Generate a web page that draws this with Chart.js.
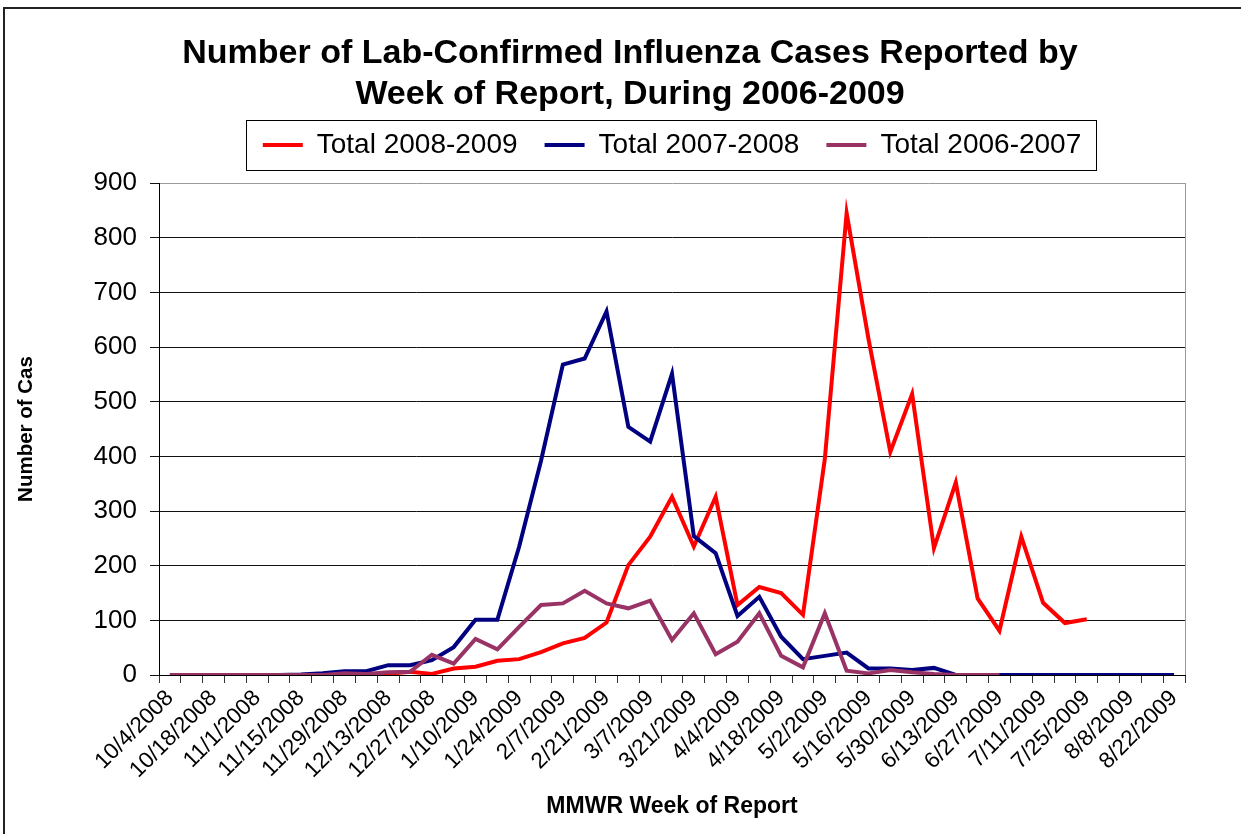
<!DOCTYPE html>
<html><head><meta charset="utf-8">
<script src="https://cdn.jsdelivr.net/npm/chart.js"></script>
<style>
html,body{margin:0;padding:0;background:#fff;}
#wrap{position:relative;width:1241px;height:834px;overflow:hidden;background:#fff;}
#frame{position:absolute;left:3px;top:7px;width:1300px;height:900px;border-left:2px solid #222;border-top:2px solid #222;}
canvas{position:absolute;left:0;top:0;}
</style></head><body>
<div id="wrap"><div id="frame"></div><canvas id="c" width="1241" height="834"></canvas></div>
<script>
const weeks = ["10/4/2008","10/11/2008","10/18/2008","10/25/2008","11/1/2008","11/8/2008","11/15/2008","11/22/2008","11/29/2008","12/6/2008",
"12/13/2008","12/20/2008","12/27/2008","1/3/2009","1/10/2009","1/17/2009","1/24/2009","1/31/2009","2/7/2009","2/14/2009",
"2/21/2009","2/28/2009","3/7/2009","3/14/2009","3/21/2009","3/28/2009","4/4/2009","4/11/2009","4/18/2009","4/25/2009",
"5/2/2009","5/9/2009","5/16/2009","5/23/2009","5/30/2009","6/6/2009","6/13/2009","6/20/2009","6/27/2009","7/4/2009",
"7/11/2009","7/18/2009","7/25/2009","8/1/2009","8/8/2009","8/15/2009","8/22/2009"];
const total2008_2009 = [0,0,0,0,0,0,0,0,0,1, 2,6,2,12,15,26,29,42,58,68, 96,201,253,326,235,326,128,161,150,110, 395,845,615,408,514,232,352,140,81,253, 132,95,102];
const total2007_2008 = [0,0,0,0,0,0,1,3,7,7, 18,18,27,51,101,101,235,392,568,579, 665,454,427,551,254,223,108,143,70,29, 35,41,12,12,9,13,0,0,0,0, 0,0,0,0,0,0,0];
const total2006_2007 = [0,0,0,0,0,0,0,0,3,2, 5,6,37,21,66,47,88,128,131,154, 131,122,136,64,113,38,61,113,35,14, 113,8,3,9,5,2,0,0,0];
const seriesNames = ["Total 2008-2009","Total 2007-2008","Total 2006-2007"];
const titleLines = ["Number of Lab-Confirmed Influenza Cases Reported by","Week of Report, During 2006-2009"];
const yMin = 0, yMax = 900, yStep = 100;

const FONT = "'Liberation Sans', Arial, sans-serif";

const framePlugin = {
  id: 'frame',
  beforeDatasetsDraw(chart) {
    const {ctx, chartArea: a} = chart;
    ctx.save();
    ctx.strokeStyle = '#9a9a9a'; ctx.lineWidth = 1;
    ctx.beginPath(); ctx.moveTo(Math.round(a.right) + 0.5, a.top); ctx.lineTo(Math.round(a.right) + 0.5, a.bottom); ctx.stroke();
    ctx.restore();
  },
  afterDraw(chart) {
    const lg = chart.legend;
    if (!lg || !lg.legendHitBoxes || !lg.legendHitBoxes.length) return;
    const hb = lg.legendHitBoxes, ctx = chart.ctx;
    const l = Math.min(...hb.map(h => h.left)) - 17;
    const r = Math.max(...hb.map(h => h.left + h.width)) + 15;
    const t = Math.min(...hb.map(h => h.top)) - 11;
    const b = Math.max(...hb.map(h => h.top + h.height)) + 11;
    ctx.save(); ctx.strokeStyle = '#000'; ctx.lineWidth = 1;
    ctx.strokeRect(Math.round(l) + 0.5, Math.round(t) + 0.5, Math.round(r - l), Math.round(b - t));
    ctx.restore();
  }
};

new Chart(document.getElementById('c'), {
  type: 'line',
  data: {
    labels: weeks,
    datasets: [
      {label: seriesNames[0], data: total2008_2009, borderColor: '#FF0000', backgroundColor: '#FF0000', borderWidth: 4, pointRadius: 0, tension: 0, order: 3},
      {label: seriesNames[1], data: total2007_2008, borderColor: '#000080', backgroundColor: '#000080', borderWidth: 4, pointRadius: 0, tension: 0, order: 2},
      {label: seriesNames[2], data: total2006_2007, borderColor: '#993366', backgroundColor: '#993366', borderWidth: 4, pointRadius: 0, tension: 0, order: 1}
    ]
  },
  options: {
    responsive: false,
    animation: false,
    layout: {padding: {left: 75, right: 56, top: 0, bottom: 10}},
    plugins: {
      tooltip: {enabled: false},
      title: {
        display: true, text: titleLines, color: '#000',
        font: {family: FONT, size: 34, weight: 'bold', lineHeight: 41/34},
        padding: {top: 33.5, bottom: -11.5}
      },
      subtitle: {
        display: true, text: '', position: 'top', weight: 500,
        font: {size: 10, lineHeight: 1.4}, padding: {top: 0, bottom: 0}
      },
      legend: {
        display: true, position: 'top', fullSize: false,
        labels: {
          font: {family: FONT, size: 28}, color: '#000',
          boxWidth: 40, boxHeight: 4, padding: 27,
          sort: (a, b) => a.datasetIndex - b.datasetIndex,
          generateLabels: (chart) => Chart.defaults.plugins.legend.labels.generateLabels(chart).map(it => Object.assign(it, {lineWidth: 0}))
        }
      }
    },
    scales: {
      x: {
        offset: true,
        grid: {offset: true, drawOnChartArea: false, color: '#333', tickLength: 8},
        border: {color: '#000', width: 1},
        ticks: {
          autoSkip: false, maxRotation: 45, minRotation: 45, padding: 2,
          font: {family: FONT, size: 22.5}, color: '#000',
          callback: function(v, i) { return i % 2 === 0 ? weeks[i] : ''; }
        },
        title: {display: true, text: 'MMWR Week of Report', color: '#000', font: {family: FONT, size: 23, weight: 'bold'}, padding: {top: 0, bottom: 4}},
        afterFit: (s) => { s.height = 149; }
      },
      y: {
        min: yMin, max: yMax,
        ticks: {stepSize: yStep, font: {family: FONT, size: 26}, color: '#000', padding: 13},
        grid: {color: (c) => (c.tick && c.tick.value === yMax) ? '#9a9a9a' : '#111', tickColor: '#111', tickLength: 9},
        border: {color: '#000', width: 1},
        title: {display: true, text: 'Number of Cas', color: '#000', font: {family: FONT, size: 20.5, weight: 'bold'}, padding: {top: -61, bottom: 0}},
        afterFit: (s) => { s.width = 84; }
      }
    }
  },
  plugins: [framePlugin]
});
</script>
</body></html>
